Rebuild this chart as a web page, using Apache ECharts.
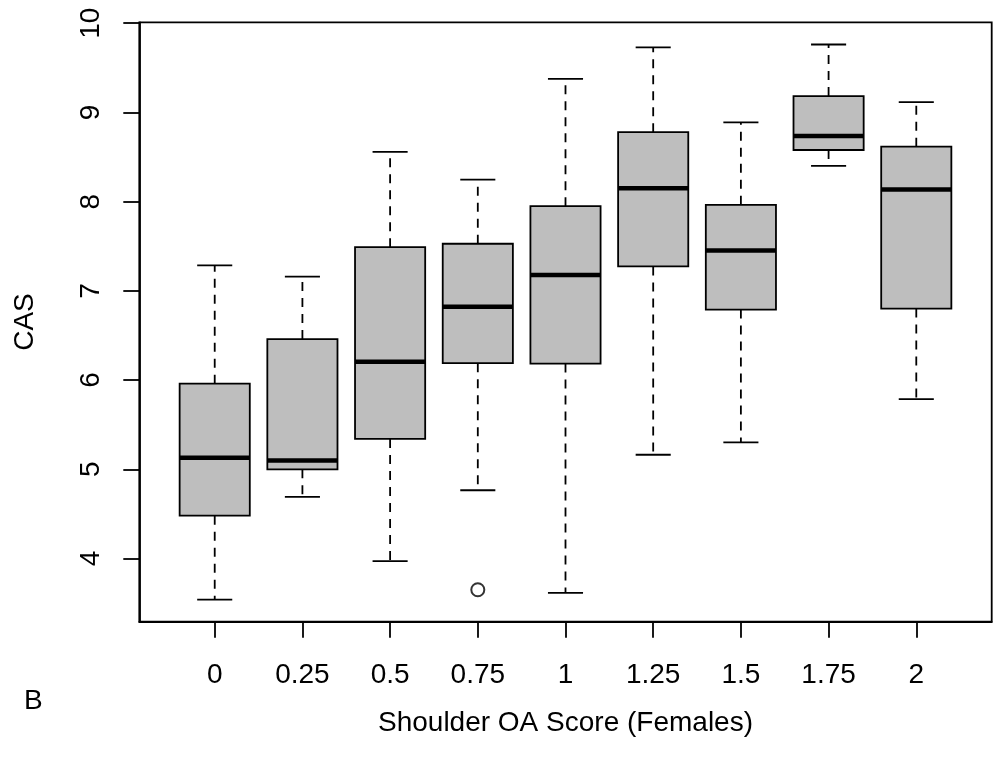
<!DOCTYPE html>
<html>
<head>
<meta charset="utf-8">
<script src="https://cdn.jsdelivr.net/npm/echarts@6/dist/echarts.min.js"></script>
<style>
html,body{margin:0;padding:0;background:#fff;}
#chart{width:996px;height:768px;}
</style>
</head>
<body>
<div id="chart"></div>
<script>
// ---- data ----
const categories = ['0', '0.25', '0.5', '0.75', '1', '1.25', '1.5', '1.75', '2'];
const lowerWhisker = [3.54, 4.69, 3.97, 4.765, 3.616, 5.163, 5.302, 8.400, 5.786];
const q1 =           [4.48, 5.00, 5.34, 6.19, 6.185, 7.274, 6.790, 8.579, 6.801];
const median =       [5.13, 5.10, 6.205, 6.823, 7.177, 8.150, 7.453, 8.736, 8.135];
const q3 =           [5.96, 6.46, 7.49, 7.528, 7.949, 8.778, 7.964, 9.183, 8.616];
const upperWhisker = [7.285, 7.16, 8.557, 8.247, 9.377, 9.73, 8.888, 9.761, 9.116];
const outlierCategory = ['0.75'];
const outlierValue = [3.65];
const yTickValues = [4, 5, 6, 7, 8, 9, 10];
const xTitle = 'Shoulder OA Score (Females)';
const yTitle = 'CAS';
const panelLabel = 'B';

// ---- build ----
const FONT = 'Liberation Sans';
const boxData = categories.map((c, i) => [i, lowerWhisker[i], q1[i], median[i], q3[i], upperWhisker[i]]);
const outlierData = outlierCategory.map((c, k) => [categories.indexOf(c), outlierValue[k]]);
const catIdx = categories.map((c, i) => i);

const chart = echarts.init(document.getElementById('chart'), null, {renderer: 'canvas'});

function renderBox(params, api) {
  const i = api.value(0);
  const pMin = api.coord([i, api.value(1)]);
  const pQ1 = api.coord([i, api.value(2)]);
  const pMed = api.coord([i, api.value(3)]);
  const pQ3 = api.coord([i, api.value(4)]);
  const pMax = api.coord([i, api.value(5)]);
  const unit = api.size([1, 0])[0];
  const x = pMed[0];
  const hb = unit * 0.4, hc = unit * 0.2;
  const lw = 1.8;
  return {
    type: 'group',
    children: [
      {type: 'line', shape: {x1: x, y1: pQ3[1], x2: x, y2: pMax[1]}, style: {stroke: '#000', lineWidth: lw, lineDash: [9, 7]}},
      {type: 'line', shape: {x1: x, y1: pQ1[1], x2: x, y2: pMin[1]}, style: {stroke: '#000', lineWidth: lw, lineDash: [9, 7]}},
      {type: 'line', shape: {x1: x - hc, y1: pMax[1], x2: x + hc, y2: pMax[1]}, style: {stroke: '#000', lineWidth: lw}},
      {type: 'line', shape: {x1: x - hc, y1: pMin[1], x2: x + hc, y2: pMin[1]}, style: {stroke: '#000', lineWidth: lw}},
      {type: 'rect', shape: {x: x - hb, y: pQ3[1], width: 2 * hb, height: pQ1[1] - pQ3[1]}, style: {fill: '#BEBEBE', stroke: '#000', lineWidth: lw}},
      {type: 'line', shape: {x1: x - hb, y1: pMed[1], x2: x + hb, y2: pMed[1]}, style: {stroke: '#000', lineWidth: 4.5}}
    ]
  };
}

const option = {
  animation: false,
  backgroundColor: '#fff',
  grid: {
    left: 139.3, right: 4.3, top: 22.3, bottom: 146.3,
    show: true, borderColor: '#000', borderWidth: 1.8, backgroundColor: 'transparent',
    containLabel: false
  },
  xAxis: {
    type: 'value', min: -0.86, max: 8.86,
    name: xTitle, nameLocation: 'middle', nameGap: 88,
    nameTextStyle: {fontFamily: FONT, fontSize: 28, color: '#000'},
    axisLine: {show: true, onZero: false, lineStyle: {color: '#000', width: 1.8}},
    axisTick: {show: true, customValues: catIdx, length: 16, lineStyle: {color: '#000', width: 1.8}},
    axisLabel: {show: true, customValues: catIdx, margin: 40, fontFamily: FONT, fontSize: 28, color: '#000',
      formatter: v => categories[Math.round(v)]},
    splitLine: {show: false}
  },
  yAxis: {
    type: 'value', min: 3.292, max: 10.01,
    name: yTitle, nameLocation: 'middle', nameGap: 100, nameRotate: 90,
    nameTextStyle: {fontFamily: FONT, fontSize: 28, color: '#000'},
    axisLine: {show: true, onZero: false, lineStyle: {color: '#000', width: 1.8}},
    axisTick: {show: true, customValues: yTickValues, length: 16, lineStyle: {color: '#000', width: 1.8}},
    axisLabel: {show: true, customValues: yTickValues, rotate: 90, margin: 34, fontFamily: FONT, fontSize: 28, color: '#000'},
    splitLine: {show: false}
  },
  graphic: [
    {type: 'text', left: 24, top: 687, style: {text: panelLabel, fontFamily: FONT, fontSize: 28, fill: '#000'}}
  ],
  series: [
    {type: 'custom', renderItem: renderBox, data: boxData, encode: {x: 0, y: [1, 2, 3, 4, 5]}, clip: false, z: 2},
    {type: 'scatter', data: outlierData, symbol: 'emptyCircle', symbolSize: 13,
      itemStyle: {color: '#000', borderColor: '#000', borderWidth: 1.8}, z: 3}
  ]
};
chart.setOption(option);
</script>
</body>
</html>
